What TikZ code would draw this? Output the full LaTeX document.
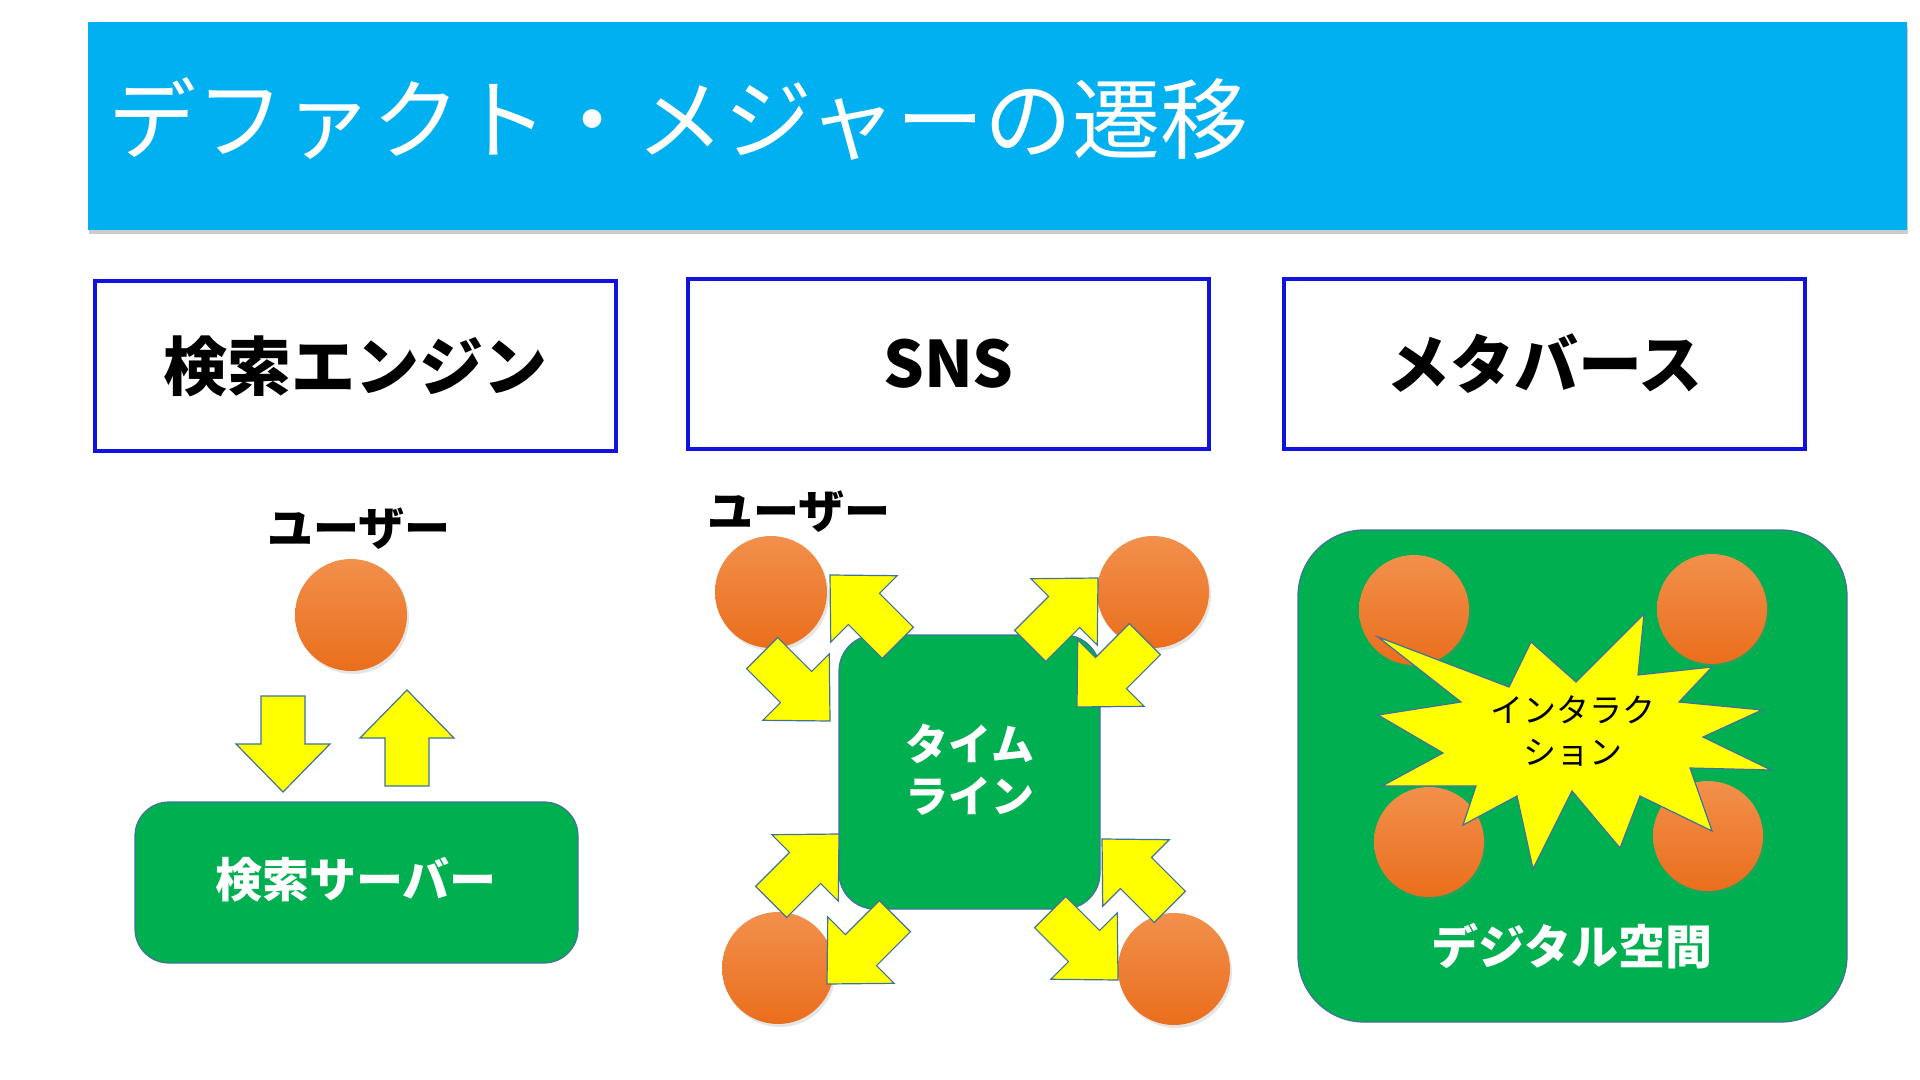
\documentclass[tikz,border=0pt]{standalone}
\usepackage{fontspec}
\setmainfont{Noto Sans CJK JP}
\usetikzlibrary{shadows}
\definecolor{titleblue}{HTML}{00B0F0}
\definecolor{boxblue}{HTML}{1212E0}
\definecolor{pgreen}{HTML}{00B050}
\definecolor{edgeblue}{HTML}{41719C}
\definecolor{orangeL}{HTML}{F2904C}
\definecolor{orangeD}{HTML}{EA6E1C}
\definecolor{pyellow}{HTML}{FFFF00}
\tikzset{
  hdr/.style={draw=boxblue, line width=2pt, fill=white, minimum width=260.5pt, minimum height=84.5pt, inner sep=0pt, font=\fontsize{32}{36}\selectfont\bfseries},
  gbox/.style={fill=pgreen, draw=edgeblue, line width=0.6pt, inner sep=0pt},
  user/.style={circle, inner sep=0pt, minimum size=56pt, top color=orangeL, bottom color=orangeD, draw=none,
    drop shadow={shadow xshift=1pt, shadow yshift=-1.5pt, opacity=0.2}},
  ulabel/.style={font=\fontsize{23}{26}\selectfont\bfseries, inner sep=0pt},
  wlabel/.style={text=white, inner sep=0pt, align=center},
  barrow/.pic={\draw[fill=pyellow, draw=edgeblue, line width=0.6pt, line join=miter]
     (0,0) -- (-48,-47) -- (-48,-22) -- (-96,-22) -- (-96,22) -- (-48,22) -- (-48,47) -- cycle;},
}
\begin{document}
\begin{tikzpicture}[x=0.5pt,y=-0.5pt]
\useasboundingbox (0,0) rectangle (1920,1080);
\fill[white] (0,0) rectangle (1920,1080);
% title bar
\fill[black!20] (89,27) rectangle (1908,234);
\node[fill=titleblue, minimum width=909.5pt, minimum height=104pt, inner sep=0pt] (bar) at (997.5,126) {};
\node[anchor=west, text=white, inner sep=0pt, font=\fontsize{44}{48}\selectfont] (title) at (108,119) {デファクト・メジャーの遷移};
% headers
\node[hdr] (h1) at (355.5,366) {検索エンジン};
\node[hdr] (h2) at (948.5,364) {SNS};
\node[hdr] (h3) at (1544.5,364) {メタバース};
% column 1
\node[ulabel] (u1lab) at (359,529) {ユーザー};
\node[user] (u1) at (351,615) {};
\node[gbox, rounded corners=17pt, minimum width=221.5pt, minimum height=80.5pt] (srv) at (356.5,882.5) {};
\node[wlabel, font=\fontsize{23.5}{26}\selectfont\bfseries] (srvlab) at (356,880) {検索サーバー};
\pic[rotate=-90] at (283,792) {barrow};
\pic[rotate=90] at (407,690) {barrow};
% column 2
\node[ulabel, anchor=west] (u2lab) at (707,512) {ユーザー};
\node[gbox, rounded corners=18pt, minimum width=130.5pt, minimum height=137pt] (tl) at (969.5,772) {};
\node[wlabel, font=\fontsize{21.5}{26}\selectfont\bfseries] (tllab) at (970,770) {タイム\\ライン};
\node[user] (c1) at (771,592) {};
\node[user] (c2) at (1153,592) {};
\node[user] (c3) at (778,968) {};
\node[user] (c4) at (1174,969) {};
\pic[rotate=135] at (830,575) {barrow};
\pic[rotate=-45] at (830,721) {barrow};
\pic[rotate=45] at (1098,578) {barrow};
\pic[rotate=-135] at (1077,707) {barrow};
\pic[rotate=45] at (839,834) {barrow};
\pic[rotate=-135] at (827,984) {barrow};
\pic[rotate=135] at (1102,839) {barrow};
\pic[rotate=-45] at (1118,980) {barrow};
% column 3
\node[gbox, rounded corners=33pt, minimum width=274.5pt, minimum height=246pt] (ds) at (1572.5,776) {};
\node[user, minimum size=55pt] (m1) at (1414,610) {};
\node[user, minimum size=55pt] (m2) at (1712,609) {};
\node[user, minimum size=55pt] (m3) at (1429,842) {};
\node[user, minimum size=55pt] (m4) at (1708,836) {};
\draw[fill=pyellow, draw=edgeblue, line width=0.6pt, line join=miter]
  (1378,637) -- (1509,687) -- (1531,642) -- (1576,682) -- (1644,614) -- (1638,675)
  -- (1712,667) -- (1679,702) -- (1762,710) -- (1703,737) -- (1771,770) -- (1690,768)
  -- (1712,831) -- (1640,796) -- (1620,848) -- (1572,791) -- (1533,869) -- (1517,796)
  -- (1463,825) -- (1476,786) -- (1382,786) -- (1443,753) -- (1378,715) -- (1461,702) -- cycle;
\node[inner sep=0pt, align=center, font=\fontsize{16.5}{21}\selectfont] (inter) at (1573,731) {インタラク\\ション};
\node[wlabel, font=\fontsize{23.5}{26}\selectfont\bfseries] (dslab) at (1572,946) {デジタル空間};
\end{tikzpicture}
\end{document}
